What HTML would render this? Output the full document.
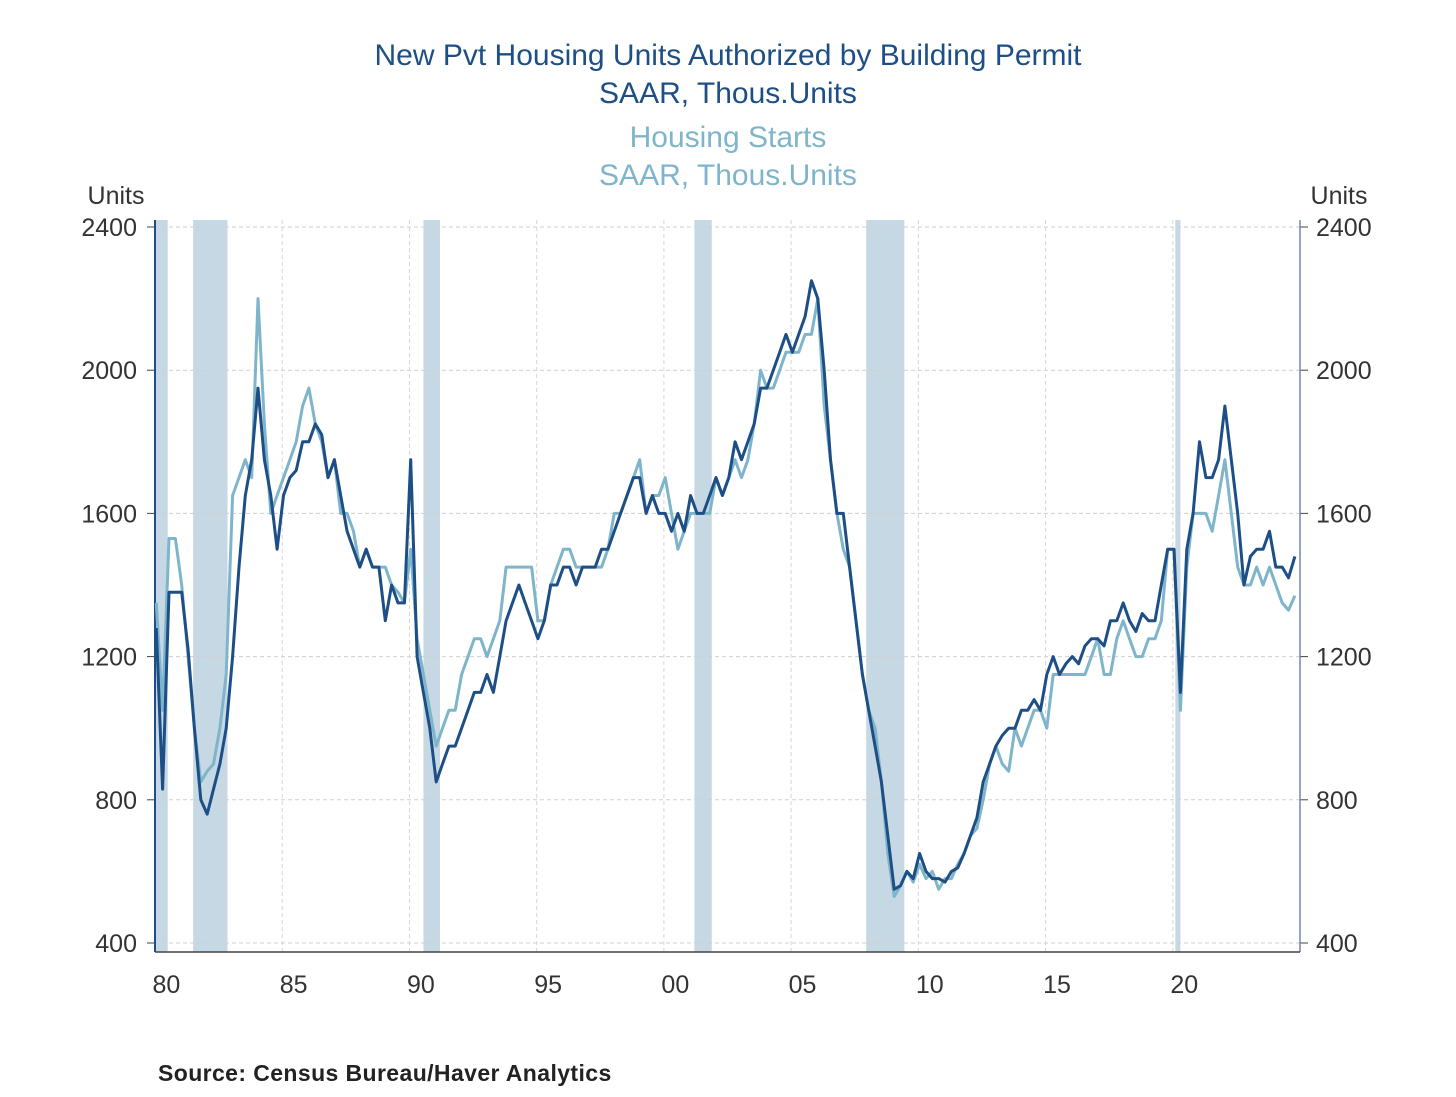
<!DOCTYPE html>
<html><head><meta charset="utf-8"><style>
body{margin:0;background:#fff;}
svg text{font-family:"Liberation Sans",sans-serif;}
</style></head><body>
<svg id="chart" width="1456" height="1092" viewBox="0 0 1456 1092" xmlns="http://www.w3.org/2000/svg">
<g id="titles">
<text x="728" y="65" text-anchor="middle" font-size="30" fill="#1d4f86">New Pvt Housing Units Authorized by Building Permit</text>
<text x="728" y="103" text-anchor="middle" font-size="30" fill="#1d4f86">SAAR, Thous.Units</text>
<text x="728" y="147" text-anchor="middle" font-size="30" fill="#7fb5cb">Housing Starts</text>
<text x="728" y="185" text-anchor="middle" font-size="30" fill="#7fb5cb">SAAR, Thous.Units</text>
<text x="116" y="204" text-anchor="middle" font-size="25" fill="#333">Units</text>
<text x="1339" y="204" text-anchor="middle" font-size="25" fill="#333">Units</text>
<text x="158" y="1081" font-size="23" font-weight="bold" fill="#222" letter-spacing="0.4">Source:  Census Bureau/Haver Analytics</text>
</g>
<g id="rec"></g><g id="grid"></g><g id="axes"></g><g id="series"></g>
</svg>
<script>
const yTicks=[400,800,1200,1600,2000,2400];
const xTickLabels=['80','85','90','95','00','05','10','15','20'];
const xTickYears=[1980,1985,1990,1995,2000,2005,2010,2015,2020];
const recessions=[[1980.0,1980.5],[1981.5,1982.85],[1990.55,1991.2],[2001.2,2001.88],[2007.95,2009.45],[2020.1,2020.3]];
const permits=[1280,830,1380,1380, 1380,1220,1000,800, 760,830,900,1000, 1200,1450,1650,1750, 1950,1750,1650,1500, 1650,1700,1720,1800, 1800,1850,1820,1700, 1750,1650,1550,1500, 1450,1500,1450,1450, 1300,1400,1350,1350, 1750,1200,1100,1000, 850,900,950,950, 1000,1050,1100,1100, 1150,1100,1200,1300, 1350,1400,1350,1300, 1250,1300,1400,1400, 1450,1450,1400,1450, 1450,1450,1500,1500, 1550,1600,1650,1700, 1700,1600,1650,1600, 1600,1550,1600,1550, 1650,1600,1600,1650, 1700,1650,1700,1800, 1750,1800,1850,1950, 1950,2000,2050,2100, 2050,2100,2150,2250, 2200,2000,1750,1600, 1600,1450,1300,1150, 1050,950,850,700, 550,560,600,580, 650,600,580,580, 570,600,610,650, 700,750,850,900, 950,980,1000,1000, 1050,1050,1080,1050, 1150,1200,1150,1180, 1200,1180,1230,1250, 1250,1230,1300,1300, 1350,1300,1270,1320, 1300,1300,1400,1500, 1500,1100,1500,1600, 1800,1700,1700,1750, 1900,1750,1600,1400, 1480,1500,1500,1550, 1450,1450,1420,1480];
const starts=[1350,1050,1530,1530, 1400,1200,1000,850, 880,900,1000,1150, 1650,1700,1750,1700, 2200,1850,1600,1650, 1700,1750,1800,1900, 1950,1850,1800,1700, 1750,1600,1600,1550, 1450,1500,1450,1450, 1450,1400,1380,1350, 1500,1250,1150,1050, 950,1000,1050,1050, 1150,1200,1250,1250, 1200,1250,1300,1450, 1450,1450,1450,1450, 1300,1300,1400,1450, 1500,1500,1450,1450, 1450,1450,1450,1500, 1600,1600,1650,1700, 1750,1600,1650,1650, 1700,1600,1500,1550, 1600,1600,1600,1600, 1700,1650,1700,1750, 1700,1750,1850,2000, 1950,1950,2000,2050, 2050,2050,2100,2100, 2200,1900,1750,1600, 1500,1450,1300,1150, 1050,1000,850,650, 530,560,600,570, 620,580,600,550, 580,580,620,650, 700,720,800,900, 950,900,880,1000, 950,1000,1050,1050, 1000,1150,1150,1150, 1150,1150,1150,1200, 1250,1150,1150,1250, 1300,1250,1200,1200, 1250,1250,1300,1500, 1500,1050,1450,1600, 1600,1600,1550,1650, 1750,1600,1450,1400, 1400,1450,1400,1450, 1400,1350,1330,1370];
const NS='http://www.w3.org/2000/svg';
const X0=155,X1=1300,Y0=943,Y1=227;
function xs(t){return X0+(t-1980)/45*(X1-X0);}
function ys(v){return Y0-(v-400)/2000*(Y0-Y1);}
function mk(tag,attrs,parent){const e=document.createElementNS(NS,tag);for(const k in attrs)e.setAttribute(k,attrs[k]);document.getElementById(parent).appendChild(e);return e;}
recessions.forEach(r=>{
 const e=mk('rect',{x:xs(r[0]),y:220,width:Math.max(3,xs(r[1])-xs(r[0])),height:732,fill:'#c5d8e3'},'rec');
 
 
});
yTicks.forEach(v=>{
 const g=mk('line',{x1:X0,x2:X1,y1:ys(v),y2:ys(v),stroke:'#cfcfcf','stroke-dasharray':'4,3'},'grid');
 
 
 mk('line',{x1:X0-8,x2:X0,y1:ys(v),y2:ys(v),stroke:'#444'},'axes');
 mk('line',{x1:X1,x2:X1+8,y1:ys(v),y2:ys(v),stroke:'#444'},'axes');
 const l=mk('text',{x:X0-18,y:ys(v)+9,'text-anchor':'end','font-size':25,fill:'#333'},'axes');l.textContent=v;
 
 
 const r=mk('text',{x:X1+16,y:ys(v)+9,'font-size':25,fill:'#333'},'axes');r.textContent=v;
 
 
});
xTickYears.forEach((yr,i)=>{
 if(i>0){const g=mk('line',{x1:xs(yr),x2:xs(yr),y1:220,y2:952,stroke:'#d6d6d6','stroke-dasharray':'4,3'},'grid');
 
 }
 const t=mk('text',{x:xs(yr+0.45),y:993,'text-anchor':'middle','font-size':25,fill:'#333'},'axes');t.textContent=xTickLabels[i];
 
 
});
mk('line',{x1:X0,x2:X0,y1:220,y2:952,stroke:'#1d4f86','stroke-width':2},'axes');
mk('line',{x1:X1,x2:X1,y1:220,y2:952,stroke:'#6f8aa6','stroke-width':1.5},'axes');
mk('line',{x1:X0,x2:X1,y1:952,y2:952,stroke:'#444','stroke-width':1.5},'axes');
function path(arr,color,name){
 const d=arr.map((v,i)=>(i?'L':'M')+xs(1980+i/4+0.05).toFixed(1)+','+ys(v).toFixed(1)).join('');
 const p=mk('path',{d:d,fill:'none',stroke:color,'stroke-width':3,'stroke-linejoin':'round'},'series');
 
 
}
path(starts,'#7fb5cb','housing-starts-line');
path(permits,'#1d4f86','building-permits-line');
</script>
</body></html>
